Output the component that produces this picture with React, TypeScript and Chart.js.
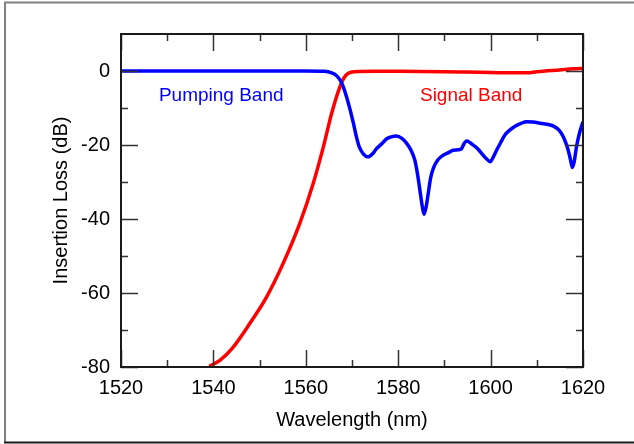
import React, { useEffect, useRef } from "react";
import { Chart, registerables } from "chart.js";

Chart.register(...registerables);

const FONT = "'Liberation Sans', Arial, Helvetica, sans-serif";

// Pumping band (blue) — wavelength (nm) and insertion loss (dB)
const pumpWavelength = [
  1520, 1530, 1540, 1550, 1560, 1564, 1565.6, 1566.6, 1567.4, 1568.1, 1568.8,
  1569.6, 1570.3, 1571.0, 1571.6, 1572.4, 1573.5, 1574.5, 1575.3, 1576.5,
  1577.5, 1578.5, 1579.6, 1580.8, 1581.8, 1582.8, 1583.6, 1584.2, 1584.7,
  1585.2, 1585.6, 1586.0, 1586.5, 1587.0, 1587.6, 1588.6, 1589.8, 1591.0,
  1591.9, 1593.0, 1593.7, 1594.3, 1594.8, 1595.5, 1596.2, 1597.2, 1598.0,
  1599.0, 1599.9, 1600.6, 1601.3, 1602.2, 1603.1, 1604.2, 1605.3, 1606.5,
  1607.8, 1609.2, 1610.7, 1612.2, 1613.6, 1614.8, 1615.7, 1616.3, 1616.8,
  1617.3, 1617.7, 1618.1, 1618.6, 1619.3, 1620,
];
const pumpLoss = [
  0, 0, 0, 0, 0, -0.1, -0.5, -1.2, -2.4, -4.2, -6.9,
  -10.5, -14.1, -18.0, -20.6, -22.3, -23.2, -22.3, -21.0, -19.6,
  -18.3, -17.8, -17.6, -18.2, -19.5, -21.5, -24.1, -28.0, -32.2,
  -36.5, -38.7, -37.0, -33.1, -29.0, -26.3, -24.0, -22.7, -22.0,
  -21.4, -21.3, -21.0, -19.5, -18.9, -19.3, -20.0, -21.0, -22.2,
  -23.6, -24.5, -23.2, -21.4, -19.3, -17.3, -15.9, -14.9, -14.2,
  -13.7, -13.8, -14.1, -14.4, -14.9, -16.0, -17.7, -19.5, -21.4,
  -24.0, -26.1, -24.5, -20.4, -16.5, -13.7,
];

// Signal band (red)
const signalWavelength = [
  1539.1, 1541.4, 1544.3, 1547.9, 1551.5, 1555.1, 1558.7, 1561.6, 1563.8,
  1565.6, 1567.4, 1568.3, 1569.2, 1570.6, 1575, 1580, 1590, 1595, 1600,
  1605, 1608, 1610, 1615, 1618, 1620,
];
const signalLoss = [
  -79.8, -78.2, -74.6, -68.2, -61.1, -52.0, -41.2, -30.4, -20.5,
  -11.4, -4.2, -1.8, -0.6, -0.2, -0.1, -0.1, -0.2, -0.3, -0.4,
  -0.5, -0.5, -0.2, 0.3, 0.6, 0.7,
];

const xMajorTicks = [1520, 1540, 1560, 1580, 1600, 1620];
const xMinorTicks = [1530, 1550, 1570, 1590, 1610];
const yMajorTicks = [-80, -60, -40, -20, 0];
const yMinorTicks = [-70, -50, -30, -10];

const xRange = [1520, 1620];
const yRange = [-80, 10];

const bandLabels = [
  { text: "Pumping Band", x: 1541.7, y: -6.8, color: "#0000ff" },
  { text: "Signal Band", x: 1595.8, y: -6.8, color: "#ff0000" },
];

const framePlugin = {
  id: "framePlugin",
  beforeDraw(chart: any) {
    const { ctx, width } = chart;
    ctx.save();
    ctx.fillStyle = "#ffffff";
    ctx.fillRect(0, 0, chart.width, chart.height);
    ctx.lineWidth = 2;
    ctx.strokeStyle = "#808080";
    ctx.beginPath();
    ctx.moveTo(5, 442);
    ctx.lineTo(5, 2.5);
    ctx.lineTo(width, 2.5);
    ctx.stroke();
    ctx.strokeStyle = "#1a1a1a";
    ctx.beginPath();
    ctx.moveTo(4, 442.5);
    ctx.lineTo(width, 442.5);
    ctx.stroke();
    ctx.restore();
  },
  afterDatasetsDraw(chart: any) {
    const { ctx, chartArea: a, scales } = chart;
    const xs = scales.x;
    const ys = scales.y;
    ctx.save();
    ctx.strokeStyle = "#333333";
    ctx.lineWidth = 1.5;
    const major = 17;
    const minor = 7;
    const drawX = (v: number, len: number) => {
      const px = Math.round(xs.getPixelForValue(v)) + 0.5;
      ctx.beginPath();
      ctx.moveTo(px, a.bottom);
      ctx.lineTo(px, a.bottom - len);
      ctx.moveTo(px, a.top);
      ctx.lineTo(px, a.top + len);
      ctx.stroke();
    };
    const drawY = (v: number, len: number) => {
      const py = Math.round(ys.getPixelForValue(v)) + 0.5;
      ctx.beginPath();
      ctx.moveTo(a.left, py);
      ctx.lineTo(a.left + len, py);
      ctx.moveTo(a.right, py);
      ctx.lineTo(a.right - len, py);
      ctx.stroke();
    };
    xMajorTicks.forEach((v) => drawX(v, major));
    xMinorTicks.forEach((v) => drawX(v, minor));
    yMajorTicks.forEach((v) => drawY(v, major));
    yMinorTicks.forEach((v) => drawY(v, minor));

    ctx.strokeStyle = "#1a1a1a";
    ctx.lineWidth = 2;
    ctx.strokeRect(a.left, a.top, a.right - a.left, a.bottom - a.top);

    ctx.font = `19px ${FONT}`;
    ctx.textAlign = "center";
    ctx.textBaseline = "middle";
    bandLabels.forEach((l) => {
      ctx.fillStyle = l.color;
      ctx.fillText(l.text, xs.getPixelForValue(l.x), ys.getPixelForValue(l.y));
    });
    ctx.restore();
  },
};

export default function App() {
  const canvasRef = useRef<HTMLCanvasElement | null>(null);

  useEffect(() => {
    if (!canvasRef.current) return;
    Chart.defaults.font.family = FONT;
    const chart = new Chart(canvasRef.current, {
      type: "scatter",
      data: {
        datasets: [
          {
            label: "Pumping Band",
            data: pumpWavelength.map((x, i) => ({ x, y: pumpLoss[i] })),
            showLine: true,
            borderColor: "#0000ff",
            backgroundColor: "#0000ff",
            borderWidth: 3.5,
            pointRadius: 0,
            cubicInterpolationMode: "monotone",
          },
          {
            label: "Signal Band",
            data: signalWavelength.map((x, i) => ({ x, y: signalLoss[i] })),
            showLine: true,
            borderColor: "#ff0000",
            backgroundColor: "#ff0000",
            borderWidth: 3.5,
            pointRadius: 0,
            cubicInterpolationMode: "monotone",
            clip: false,
          },
        ],
      },
      options: {
        responsive: false,
        animation: false,
        devicePixelRatio: 1,
        layout: { padding: { top: 34, right: 51, left: 0, bottom: 0 } },
        plugins: {
          legend: { display: false },
          tooltip: { enabled: false },
        },
        scales: {
          x: {
            type: "linear",
            min: xRange[0],
            max: xRange[1],
            grid: { display: false, drawTicks: false },
            border: { display: false },
            afterBuildTicks: (s: any) => {
              s.ticks = xMajorTicks.map((v) => ({ value: v }));
            },
            afterFit: (s: any) => {
              s.height = 77;
            },
            ticks: {
              color: "#000",
              font: { size: 20 },
              padding: 9,
              maxRotation: 0,
              callback: (v: any) => String(v),
            },
            title: {
              display: true,
              text: "Wavelength (nm)",
              color: "#000",
              font: { size: 20 },
              padding: { top: 0, bottom: 12 },
            },
          },
          y: {
            type: "linear",
            min: yRange[0],
            max: yRange[1],
            grid: { display: false, drawTicks: false },
            border: { display: false },
            afterBuildTicks: (s: any) => {
              s.ticks = yMajorTicks.map((v) => ({ value: v }));
            },
            afterFit: (s: any) => {
              s.width = 121;
            },
            ticks: {
              color: "#000",
              font: { size: 20 },
              padding: 11,
              callback: (v: any) => String(v),
            },
            title: {
              display: true,
              text: "Insertion Loss (dB)",
              color: "#000",
              font: { size: 20 },
              padding: { top: 49, bottom: 0 },
            },
          },
        },
      },
      plugins: [framePlugin],
    });
    return () => chart.destroy();
  }, []);

  return (
    <div style={{ position: "absolute", left: 0, top: 0, width: 634, height: 444 }}>
      <canvas ref={canvasRef} width={634} height={444} style={{ display: "block" }} />
    </div>
  );
}
